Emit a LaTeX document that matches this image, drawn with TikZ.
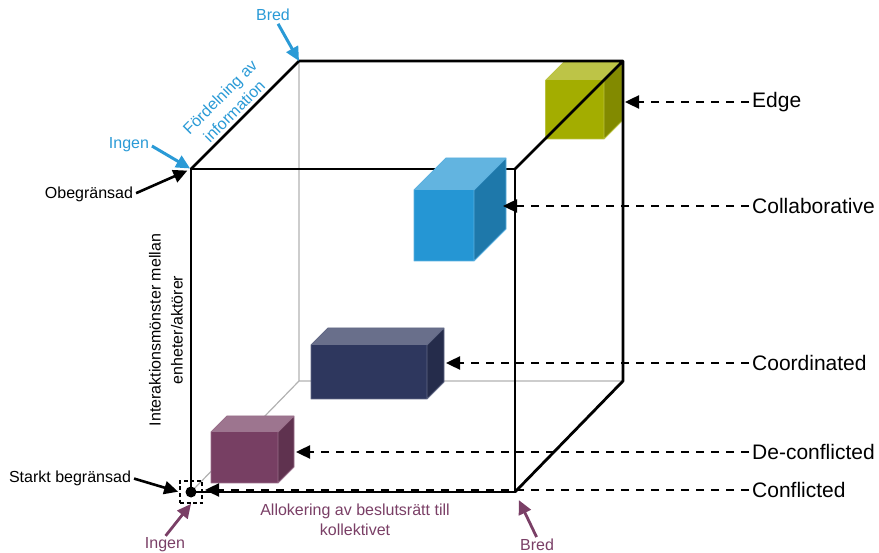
\documentclass[tikz,border=0pt]{standalone}
\usepackage{fontspec}
\setmainfont{Liberation Sans}
\usetikzlibrary{arrows.meta,positioning,calc}
\definecolor{infoblue}{HTML}{2A9AD6}
\definecolor{allocpurple}{HTML}{7A3F66}
\definecolor{edgeolive}{HTML}{A3AD00}
\definecolor{collabblue}{HTML}{2596D4}
\definecolor{coordnavy}{HTML}{2E375E}
\definecolor{deconfpurple}{HTML}{773F63}

\begin{document}
\begin{tikzpicture}[x=1pt,y=-1pt,
  lbl/.style={font=\fontsize{21}{24}\selectfont,anchor=west,inner sep=3pt},
  small/.style={font=\fontsize{16}{20}\selectfont,inner sep=1pt},
  dashline/.style={dash pattern=on 8pt off 7pt,line width=2.4pt,-{Triangle[length=14pt,width=13pt]}},
  callout/.style={line width=2.6pt,-{Triangle[length=14pt,width=13pt]}}]
\useasboundingbox (0,0) rectangle (879,553);
% cube corners
\coordinate (fbl) at (191,492); \coordinate (fbr) at (515,492);
\coordinate (ftl) at (191,169); \coordinate (ftr) at (515,169);
\coordinate (bbl) at (299,381); \coordinate (bbr) at (623,381);
\coordinate (btl) at (299,61);  \coordinate (btr) at (623,61);
% hidden edges
\draw[black!30,line width=1.2pt] (fbl) -- (bbl) -- (btl) (bbl) -- (bbr);
\draw[line width=2.8pt] (ftl) rectangle (fbr);
% boxes: front corner, width, height, depth
\foreach \nm/\x/\y/\w/\h/\dep/\col in {edgebox/545.5/80.5/58.5/58.5/18/edgeolive,
  collabbox/414/190/60/71/32/collabblue, coordbox/311/345/116/54/17/coordnavy,
  deconfbox/211/432/67/51/16/deconfpurple} {
  \fill[\col!72!white] (\x,\y) -- ++(\dep,-\dep) -- ++(\w,0) -- ++(-\dep,\dep) -- cycle;
  \fill[\col!80!black] (\x+\w,\y) -- ++(\dep,-\dep) -- ++(0,\h) -- ++(-\dep,\dep) -- cycle;
  \fill[\col] (\x,\y) rectangle ++(\w,\h);
  \draw[\col!75!white,line width=0.8pt,line join=round] (\x,\y) -- ++(\dep,-\dep) -- ++(\w,0) -- ++(0,\h)
    -- ++(-\dep,\dep) -- ++(-\w,0) -- cycle (\x+\w,\y) -- ++(\dep,-\dep) (\x+\w,\y) -- ++(0,\h);
}
% visible back edges
\draw[line width=2.8pt,line join=round] (ftl) -- (btl) -- (btr) -- (bbr) -- (fbr) (ftr) -- (btr);
% origin
\node[draw,dash pattern=on 4pt off 2.5pt,line width=1.8pt,minimum size=22pt,inner sep=0pt] (origin) at (191,492) {};
\fill (origin.center) circle (5.5pt);
% levels on the right
\coordinate (edge-tip) at (625,102);
\coordinate (collab-tip) at (503,206);
\coordinate (coord-tip) at (446,363);
\coordinate (deconf-tip) at (296,452);
\coordinate (conf-tip) at (205,490);
\foreach \nm/\yy/\txt in {edge/102/Edge,collab/206/Collaborative,coord/363/Coordinated,deconf/452/De-conflicted,conf/490/Conflicted} {
  \node[lbl] (\nm) at (749,\yy) {\txt};
  \draw[dashline] (\nm.west) -- (\nm-tip);
}
% axis: information
\node[small,text=infoblue] (bredtop) at (273,15) {Bred};
\node[small,text=infoblue] (ingentop) at (129,145) {Ingen};
\draw[callout,infoblue,line width=3pt,shorten <=2pt] (bredtop.-60) -- (btl);
\draw[callout,infoblue,line width=3pt,shorten <=2pt,shorten >=1pt] (ingentop.east) -- (ftl);
\node[small,text=infoblue,rotate=45,align=center] (infolbl) at (227,104) {Fördelning av\\information};
% axis: interaction
\node[small] (obeg) at (89,194) {Obegränsad};
\draw[callout,shorten <=2pt,shorten >=4pt] (obeg.east) -- (ftl);
\node[small] (starkt) at (70,478) {Starkt begränsad};
\draw[callout,shorten <=2pt,shorten >=1pt] (starkt.east) -- (origin.west);
\node[small,rotate=90,align=center,font=\fontsize{16}{22}\selectfont] (interlbl) at (166,330) {Interaktionsmönster mellan\\enheter/aktörer};
% axis: allocation
\node[small,text=allocpurple] (ingenbot) at (165,545) {Ingen};
\node[small,text=allocpurple] (bredbot) at (537,545) {Bred};
\draw[callout,allocpurple,line width=2.8pt,shorten <=1pt] (ingenbot.north) -- (origin.south);
\draw[callout,allocpurple,line width=2.8pt,shorten <=1pt,shorten >=9pt] (bredbot.north) -- (fbr);
\node[small,text=allocpurple,align=center] (alloclbl) at (355,520) {Allokering av beslutsrätt till\\kollektivet};
\end{tikzpicture}
\end{document}
